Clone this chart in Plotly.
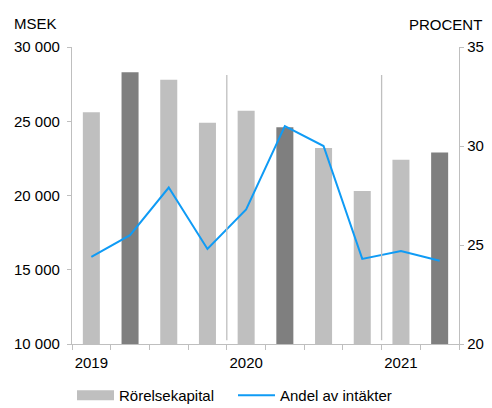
import plotly.graph_objects as go

quarters = list(range(10))
rorelsekapital = [25600, 28300, 27800, 24900, 25700, 24600, 23200, 20300, 22400, 22900]
bar_colors = ["#bfbfbf", "#7f7f7f", "#bfbfbf", "#bfbfbf", "#bfbfbf",
              "#7f7f7f", "#bfbfbf", "#bfbfbf", "#bfbfbf", "#7f7f7f"]
andel = [24.4, 25.5, 27.9, 24.8, 26.8, 31.0, 30.0, 24.3, 24.7, 24.2]
year_pos = [0, 4, 8]
year_labels = ["2019", "2020", "2021"]
left_vals = [10000, 15000, 20000, 25000, 30000]
left_text = ["10 000", "15 000", "20 000", "25 000", "30 000"]
right_vals = [20, 25, 30, 35]
boundaries = [i - 0.5 for i in range(11)]
separators_x = [3.5, 7.5]

FONT = "Liberation Sans, Arial, sans-serif"
AX = "#bfbfbf"

fig = go.Figure()
fig.add_trace(go.Bar(
    x=quarters, y=rorelsekapital, name="Rörelsekapital",
    marker=dict(color=bar_colors, line=dict(width=0)),
    width=0.44, showlegend=False,
))
# legend key for the bars (wide grey swatch as in the reference)
fig.add_trace(go.Scatter(
    x=[None], y=[None], name="Rörelsekapital", mode="lines",
    line=dict(color="#bfbfbf", width=10),
))
fig.add_trace(go.Scatter(
    x=quarters, y=andel, name="Andel av intäkter", yaxis="y2",
    mode="lines", line=dict(color="#0f9bf5", width=2),
))

for sx in separators_x:
    fig.add_shape(type="line", xref="x", yref="paper", x0=sx, x1=sx,
                  y0=0.013, y1=0.906, line=dict(color=AX, width=1.3))

fig.update_layout(
    width=484, height=400,
    margin=dict(l=64, r=33, t=39, b=64, autoexpand=False),
    paper_bgcolor="white", plot_bgcolor="white",
    font=dict(family=FONT, size=15, color="#000000"),
    showlegend=True,
    legend=dict(orientation="h", x=0.0, xanchor="left", y=-0.118, yanchor="top",
                font=dict(size=15), itemwidth=37, traceorder="normal",
                entrywidth=109, entrywidthmode="pixels",
                tracegroupgap=0),
    xaxis=dict(
        range=[-0.5, 9.5], tickmode="array", tickvals=year_pos, ticktext=year_labels,
        ticks="outside", ticklen=5, tickcolor="rgba(0,0,0,0)", automargin=False,
        showline=True, linecolor=AX, linewidth=1.3, showgrid=False, zeroline=False,
        minor=dict(tickmode="array", tickvals=boundaries, ticks="outside",
                   ticklen=5, tickcolor=AX, tickwidth=1.3, showgrid=False),
        tickfont=dict(size=15),
    ),
    yaxis=dict(
        range=[10000, 30000], tickmode="array", tickvals=left_vals, ticktext=left_text,
        ticks="outside", ticklen=4, tickcolor=AX, tickwidth=1.3, automargin=False,
        ticklabelstandoff=4,
        showline=True, linecolor=AX, linewidth=1.3, showgrid=False, zeroline=False,
        tickfont=dict(size=15),
    ),
    yaxis2=dict(
        range=[20, 35], tickmode="array", tickvals=right_vals,
        overlaying="y", side="right", automargin=False,
        ticks="outside", ticklen=4, tickcolor=AX, tickwidth=1.3,
        ticklabelstandoff=0,
        showline=True, linecolor=AX, linewidth=1.3, showgrid=False, zeroline=False,
        tickfont=dict(size=15),
    ),
    annotations=[
        dict(text="MSEK", xref="paper", yref="paper", x=-0.155, y=1.045,
             xanchor="left", yanchor="bottom", showarrow=False, font=dict(size=15)),
        dict(text="PROCENT", xref="paper", yref="paper", x=1.065, y=1.039,
             xanchor="right", yanchor="bottom", showarrow=False, font=dict(size=15)),
    ],
)

fig.write_html("out.html")
